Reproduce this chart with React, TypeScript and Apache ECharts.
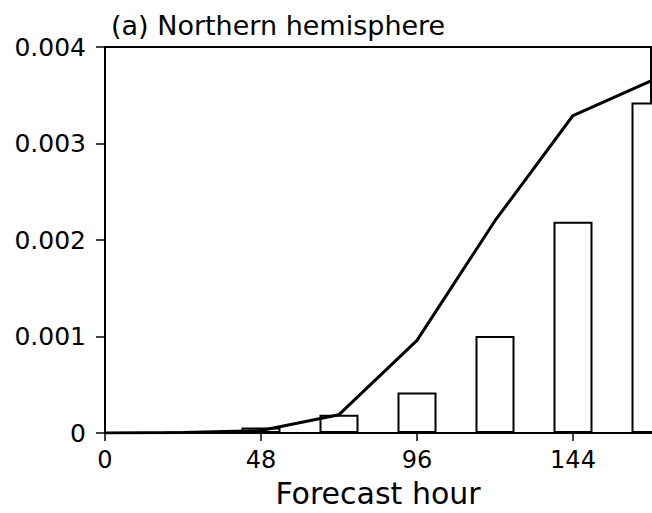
import React, { useEffect, useRef } from "react";
import * as echarts from "echarts";

const hours = [0, 24, 48, 72, 96, 120, 144, 168];
const lineValues = [0, 0.000006, 0.000025, 0.00019, 0.00096, 0.0022, 0.00329, 0.00365];
const barHours = [24, 48, 72, 96, 120, 144, 168];
const barValues = [0.000008, 0.000058, 0.00019, 0.00042, 0.001005, 0.00219, 0.003425];
const xTickLabels = [0, 48, 96, 144];
const yTicks = [0, 0.001, 0.002, 0.003, 0.004];
const titleText = "(a) Northern hemisphere";
const xAxisName = "Forecast hour";

const FONT = "DejaVu Sans";

export default function App() {
  const ref = useRef<HTMLDivElement>(null);
  useEffect(() => {
    if (!ref.current) return;
    const chart = echarts.init(ref.current, null, { renderer: "svg" });
    chart.setOption({
      animation: false,
      backgroundColor: "#fff",
      title: {
        text: titleText,
        left: 106,
        top: 7,
        textStyle: { fontFamily: FONT, fontSize: 27, fontWeight: "normal", color: "#000" },
      },
      grid: {
        left: 105,
        right: 1,
        top: 47,
        bottom: 80,
        outerBoundsMode: "none",
        containLabel: false,
        show: true,
        borderColor: "#000",
        borderWidth: 2,
        backgroundColor: "transparent",
      },
      xAxis: {
        type: "value",
        min: 0,
        max: 168,
        interval: 48,
        name: xAxisName,
        nameLocation: "middle",
        nameGap: 45,
        nameTextStyle: { fontFamily: FONT, fontSize: 30, lineHeight: 30, color: "#000" },
        axisLine: { show: true, lineStyle: { color: "#000", width: 2 } },
        axisTick: { show: true, inside: false, length: 8, customValues: xTickLabels, lineStyle: { color: "#000", width: 1.5 } },
        axisLabel: { customValues: xTickLabels, margin: 15, fontFamily: FONT, fontSize: 24, color: "#000" },
        splitLine: { show: false },
      },
      yAxis: {
        type: "value",
        min: 0,
        max: 0.004,
        interval: 0.001,
        axisLine: { show: true, lineStyle: { color: "#000", width: 2 } },
        axisTick: { show: true, inside: false, length: 9, customValues: yTicks, lineStyle: { color: "#000", width: 1.5 } },
        axisLabel: {
          customValues: yTicks,
          margin: 19,
          fontFamily: FONT,
          fontSize: 25,
          color: "#000",
          formatter: (v: number) => (v === 0 ? "0" : v.toFixed(3)),
        },
        splitLine: { show: false },
      },
      series: [
        {
          type: "bar",
          data: barHours.map((h, i) => [h, barValues[i]]),
          barWidth: 39,
          clip: true,
          itemStyle: { color: "#fff", borderColor: "#000", borderWidth: 2 },
          z: 2,
        },
        {
          type: "line",
          data: hours.map((h, i) => [h, lineValues[i]]),
          symbol: "none",
          clip: true,
          lineStyle: { color: "#000", width: 3 },
          z: 3,
        },
      ],
    });
    return () => chart.dispose();
  }, []);
  return (
    <div
      ref={ref}
      style={{ position: "fixed", left: 0, top: 0, width: 652, height: 513 }}
    />
  );
}
